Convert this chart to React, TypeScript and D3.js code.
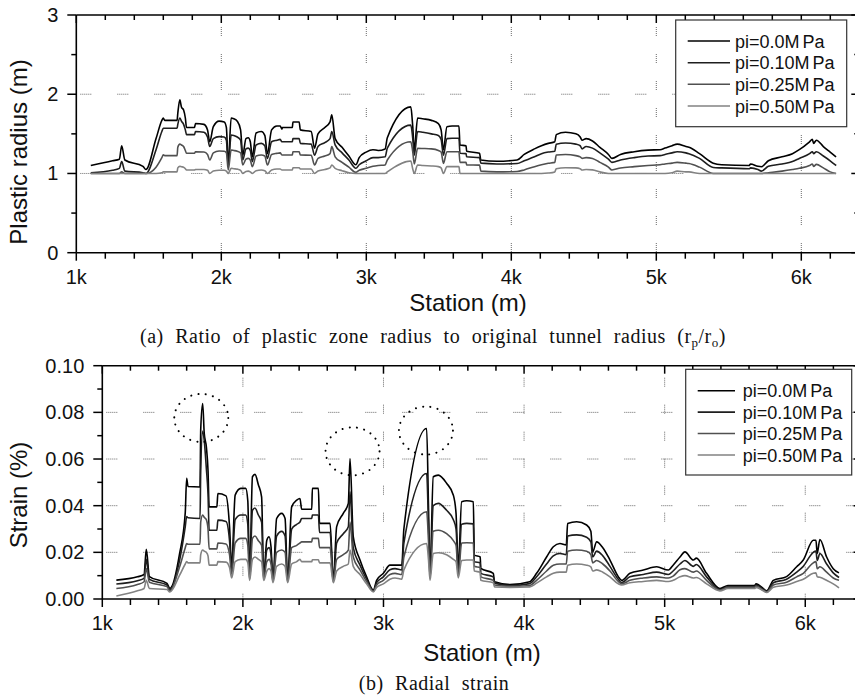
import React from "react";
import * as d3 from "d3";

// ---------------- data ----------------
const STATIONS = [
  1100, 1250, 1297, 1313, 1335, 1460, 1480, 1550, 1590, 1600,
  1610, 1695, 1700, 1714, 1725, 1740, 1752, 1760, 1815, 1822,
  1880, 1905, 1920, 1945, 1985, 2020, 2035, 2048, 2068, 2086,
  2110, 2133, 2148, 2170, 2186, 2200, 2214, 2240, 2276, 2300,
  2318, 2347, 2383, 2406, 2418, 2422, 2490, 2494, 2537, 2545,
  2620, 2643, 2667, 2714, 2750, 2762, 2785, 2833, 2880, 2928,
  2951, 2999, 3046, 3082, 3130, 3145, 3307, 3320, 3331, 3354,
  3390, 3449, 3497, 3516, 3532, 3556, 3592, 3639, 3646, 3688,
  3692, 3781, 3790, 3900, 4040, 4089, 4160, 4208, 4255, 4300,
  4310, 4374, 4445, 4475, 4488, 4516, 4560, 4611, 4670, 4694,
  4753, 4848, 4943, 5026, 5060, 5109, 5144, 5204, 5225, 5298,
  5393, 5450, 5640, 5650, 5701, 5725, 5773, 5867, 5939, 5986,
  6057, 6076, 6085, 6104, 6152, 6199, 6240,
];

const RADIUS_P0 = [
  1.10, 1.16, 1.18, 1.35, 1.17, 1.09, 1.05, 1.44, 1.67, 1.70,
  1.67, 1.67, 1.76, 1.93, 1.84, 1.80, 1.70, 1.58, 1.58, 1.63,
  1.62, 1.55, 1.40, 1.59, 1.66, 1.65, 1.58, 1.12, 1.70, 1.69,
  1.66, 1.55, 1.23, 1.44, 1.45, 1.40, 1.21, 1.51, 1.53, 1.48,
  1.25, 1.55, 1.60, 1.60, 1.56, 1.58, 1.58, 1.65, 1.65, 1.55,
  1.53, 1.32, 1.50, 1.58, 1.65, 1.74, 1.44, 1.33, 1.22, 1.11,
  1.20, 1.27, 1.30, 1.29, 1.31, 1.45, 1.84, 1.60, 1.30, 1.70,
  1.69, 1.67, 1.63, 1.55, 1.30, 1.59, 1.60, 1.60, 1.36, 1.35,
  1.28, 1.255, 1.17, 1.155, 1.17, 1.24, 1.31, 1.35, 1.38, 1.40,
  1.49, 1.52, 1.50, 1.46, 1.42, 1.44, 1.41, 1.33, 1.24, 1.19,
  1.24, 1.275, 1.295, 1.30, 1.32, 1.35, 1.37, 1.34, 1.33, 1.25,
  1.13, 1.11, 1.10, 1.12, 1.09, 1.085, 1.16, 1.21, 1.25, 1.30,
  1.40, 1.43, 1.38, 1.42, 1.34, 1.27, 1.21,
];
const RADIUS_P10 = [
  1.01, 1.04, 1.065, 1.15, 1.03, 1.01, 1.0, 1.30, 1.53, 1.57,
  1.57, 1.57, 1.62, 1.70, 1.66, 1.62, 1.55, 1.49, 1.49, 1.53,
  1.52, 1.46, 1.34, 1.44, 1.465, 1.46, 1.42, 1.09, 1.486, 1.48,
  1.46, 1.42, 1.17, 1.31, 1.32, 1.29, 1.15, 1.36, 1.38, 1.35,
  1.19, 1.40, 1.42, 1.43, 1.40, 1.40, 1.40, 1.44, 1.44, 1.38,
  1.37, 1.23, 1.34, 1.39, 1.44, 1.53, 1.36, 1.26, 1.17, 1.065,
  1.11, 1.16, 1.20, 1.20, 1.21, 1.32, 1.61, 1.45, 1.23, 1.53,
  1.52, 1.50, 1.48, 1.43, 1.23, 1.44, 1.445, 1.445, 1.255, 1.25,
  1.21, 1.20, 1.13, 1.12, 1.125, 1.16, 1.21, 1.25, 1.27, 1.28,
  1.37, 1.385, 1.37, 1.35, 1.31, 1.34, 1.32, 1.26, 1.18, 1.14,
  1.17, 1.20, 1.22, 1.225, 1.24, 1.26, 1.275, 1.26, 1.25, 1.19,
  1.075, 1.07, 1.06, 1.07, 1.05, 1.03, 1.09, 1.12, 1.15, 1.19,
  1.25, 1.275, 1.25, 1.275, 1.22, 1.16, 1.10,
];
const RADIUS_P25 = [
  1.0, 1.0, 1.0, 1.02, 1.0, 1.0, 1.0, 1.08, 1.20, 1.235,
  1.225, 1.225, 1.33, 1.37, 1.36, 1.34, 1.29, 1.255, 1.255, 1.275,
  1.27, 1.24, 1.17, 1.26, 1.283, 1.28, 1.26, 1.045, 1.296, 1.29,
  1.28, 1.26, 1.107, 1.18, 1.19, 1.17, 1.086, 1.22, 1.233, 1.22,
  1.107, 1.24, 1.254, 1.26, 1.233, 1.233, 1.233, 1.275, 1.275, 1.233,
  1.23, 1.107, 1.19, 1.22, 1.25, 1.34, 1.21, 1.14, 1.08, 1.014,
  1.04, 1.065, 1.09, 1.10, 1.107, 1.17, 1.40, 1.28, 1.12, 1.317,
  1.315, 1.31, 1.29, 1.27, 1.128, 1.275, 1.275, 1.275, 1.14, 1.14,
  1.107, 1.105, 1.03, 1.02, 1.025, 1.045, 1.086, 1.11, 1.128, 1.14,
  1.233, 1.24, 1.225, 1.21, 1.19, 1.20, 1.19, 1.14, 1.08, 1.044,
  1.07, 1.086, 1.10, 1.11, 1.12, 1.13, 1.14, 1.13, 1.125, 1.08,
  1.0, 1.0, 1.0, 1.0, 1.0, 1.0, 1.01, 1.03, 1.05, 1.065,
  1.10, 1.12, 1.09, 1.115, 1.07, 1.02, 1.0,
];
const RADIUS_P50 = [
  1.0, 1.0, 1.0, 1.0, 1.0, 1.0, 1.0, 1.0, 1.01, 1.02,
  1.02, 1.02, 1.07, 1.09, 1.085, 1.08, 1.06, 1.044, 1.044, 1.05,
  1.05, 1.04, 1.0, 1.03, 1.04, 1.04, 1.03, 1.0, 1.065, 1.06,
  1.055, 1.04, 1.0, 1.025, 1.03, 1.02, 1.0, 1.035, 1.044, 1.035,
  1.0, 1.045, 1.056, 1.056, 1.044, 1.044, 1.044, 1.073, 1.073, 1.056,
  1.056, 1.0, 1.03, 1.05, 1.07, 1.107, 1.065, 1.035, 1.01, 1.0,
  1.0, 1.0, 1.0, 1.0, 1.0, 1.02, 1.157, 1.06, 1.0, 1.107,
  1.10, 1.095, 1.086, 1.07, 1.0, 1.086, 1.086, 1.086, 1.0, 1.0,
  1.0, 1.0, 1.0, 1.0, 1.0, 1.0, 1.0, 1.0, 1.005, 1.02,
  1.06, 1.073, 1.07, 1.06, 1.044, 1.05, 1.045, 1.02, 1.0, 1.0,
  1.0, 1.0, 1.0, 1.0, 1.0, 1.01, 1.03, 1.02, 1.02, 1.0,
  1.0, 1.0, 1.0, 1.0, 1.0, 1.0, 1.0, 1.0, 1.0, 1.0,
  1.0, 1.0, 1.0, 1.0, 1.0, 1.0, 1.0,
];

const STRAIN_P0 = [
  0.0081, 0.0095, 0.0105, 0.0213, 0.0096, 0.0067, 0.0045, 0.0195, 0.037, 0.0517,
  0.0482, 0.048, 0.0724, 0.0838, 0.071, 0.0652, 0.055, 0.0395, 0.0395, 0.0452,
  0.0442, 0.031, 0.0138, 0.0445, 0.0474, 0.0474, 0.042, 0.0096, 0.0524, 0.0534,
  0.049, 0.0438, 0.0096, 0.0252, 0.0267, 0.0224, 0.008, 0.0345, 0.0367, 0.0345,
  0.008, 0.0395, 0.0424, 0.0431, 0.0385, 0.0385, 0.0385, 0.0474, 0.0474, 0.0324,
  0.0324, 0.008, 0.031, 0.0367, 0.041, 0.0602, 0.0267, 0.0167, 0.0095, 0.0038,
  0.008, 0.011, 0.0145, 0.0145, 0.0145, 0.030, 0.0731, 0.04, 0.011, 0.0524,
  0.0531, 0.0496, 0.0445, 0.0367, 0.0138, 0.0417, 0.0421, 0.0417, 0.0188, 0.018,
  0.0131, 0.011, 0.0074, 0.0062, 0.0074, 0.011, 0.018, 0.0224, 0.0238, 0.0232,
  0.0324, 0.0331, 0.0317, 0.029, 0.0202, 0.0245, 0.022, 0.0167, 0.0096, 0.008,
  0.011, 0.0124, 0.0138, 0.0124, 0.0145, 0.018, 0.0202, 0.0167, 0.0175, 0.011,
  0.0045, 0.0058, 0.0058, 0.0065, 0.0045, 0.0035, 0.008, 0.0096, 0.0138, 0.0167,
  0.0252, 0.0252, 0.0195, 0.0255, 0.018, 0.013, 0.0112,
];
const STRAIN_P10 = [
  0.0064, 0.0078, 0.0088, 0.017, 0.0084, 0.006, 0.004, 0.0167, 0.031, 0.0353,
  0.0348, 0.0345, 0.055, 0.072, 0.068, 0.056, 0.045, 0.0295, 0.0295, 0.0338,
  0.0332, 0.025, 0.0124, 0.034, 0.036, 0.036, 0.032, 0.0092, 0.038, 0.039,
  0.036, 0.033, 0.009, 0.021, 0.022, 0.019, 0.0078, 0.027, 0.029, 0.027,
  0.0078, 0.030, 0.032, 0.033, 0.0345, 0.0345, 0.0345, 0.036, 0.036, 0.0285,
  0.0285, 0.0078, 0.024, 0.028, 0.031, 0.046, 0.022, 0.0145, 0.0085, 0.0035,
  0.007, 0.0095, 0.0125, 0.013, 0.0125, 0.024, 0.0538, 0.032, 0.010, 0.040,
  0.041, 0.038, 0.034, 0.030, 0.0115, 0.032, 0.0324, 0.0322, 0.016, 0.0155,
  0.011, 0.0095, 0.0068, 0.0058, 0.0066, 0.0095, 0.015, 0.0185, 0.0195, 0.019,
  0.027, 0.0275, 0.0265, 0.0245, 0.018, 0.0205, 0.0185, 0.014, 0.0085, 0.007,
  0.0095, 0.0105, 0.0115, 0.0105, 0.012, 0.015, 0.0165, 0.014, 0.0148, 0.0095,
  0.004, 0.0053, 0.0053, 0.006, 0.0042, 0.0033, 0.007, 0.0085, 0.0115, 0.014,
  0.020, 0.0205, 0.0165, 0.0195, 0.015, 0.0112, 0.0092,
];
const STRAIN_P25 = [
  0.0045, 0.0062, 0.0074, 0.013, 0.0072, 0.0053, 0.0035, 0.0138, 0.022, 0.0238,
  0.0235, 0.0235, 0.033, 0.036, 0.035, 0.034, 0.030, 0.0215, 0.0215, 0.024,
  0.0236, 0.019, 0.0105, 0.024, 0.026, 0.026, 0.023, 0.0085, 0.026, 0.027,
  0.025, 0.023, 0.0085, 0.016, 0.017, 0.015, 0.0075, 0.020, 0.021, 0.020,
  0.0075, 0.022, 0.023, 0.024, 0.0245, 0.0245, 0.0245, 0.026, 0.026, 0.022,
  0.022, 0.0075, 0.017, 0.019, 0.021, 0.033, 0.018, 0.0125, 0.0075, 0.0033,
  0.006, 0.008, 0.0105, 0.011, 0.0105, 0.018, 0.0374, 0.025, 0.009, 0.029,
  0.0295, 0.028, 0.025, 0.023, 0.010, 0.024, 0.0241, 0.024, 0.014, 0.0135,
  0.0095, 0.008, 0.006, 0.0054, 0.0058, 0.008, 0.012, 0.0145, 0.015, 0.015,
  0.0205, 0.021, 0.0205, 0.019, 0.0155, 0.0165, 0.015, 0.012, 0.0075, 0.0065,
  0.008, 0.009, 0.0095, 0.009, 0.0098, 0.0125, 0.013, 0.0115, 0.012, 0.008,
  0.0038, 0.005, 0.005, 0.0055, 0.0038, 0.003, 0.006, 0.0072, 0.0095, 0.011,
  0.0155, 0.016, 0.013, 0.0138, 0.0115, 0.009, 0.008,
];
const STRAIN_P50 = [
  0.0013, 0.0035, 0.0045, 0.008, 0.0045, 0.0041, 0.003, 0.0102, 0.015, 0.016,
  0.0155, 0.0155, 0.019, 0.021, 0.0205, 0.020, 0.0185, 0.0145, 0.0145, 0.016,
  0.0158, 0.0135, 0.009, 0.016, 0.017, 0.017, 0.0155, 0.008, 0.017, 0.018,
  0.017, 0.016, 0.008, 0.012, 0.013, 0.012, 0.007, 0.014, 0.015, 0.014,
  0.007, 0.015, 0.016, 0.017, 0.016, 0.016, 0.016, 0.0168, 0.0168, 0.0155,
  0.0155, 0.007, 0.012, 0.014, 0.015, 0.021, 0.014, 0.0105, 0.0065, 0.003,
  0.005, 0.0065, 0.0085, 0.009, 0.0085, 0.0125, 0.0238, 0.017, 0.008, 0.0195,
  0.0198, 0.019, 0.017, 0.016, 0.009, 0.0165, 0.0167, 0.0167, 0.012, 0.0115,
  0.008, 0.007, 0.0052, 0.005, 0.0052, 0.0068, 0.0095, 0.011, 0.0115, 0.0115,
  0.0145, 0.015, 0.0145, 0.0138, 0.012, 0.0125, 0.0115, 0.0095, 0.0065, 0.006,
  0.007, 0.0075, 0.008, 0.0075, 0.008, 0.0095, 0.010, 0.009, 0.0092, 0.0065,
  0.0035, 0.0045, 0.0045, 0.005, 0.0035, 0.0028, 0.005, 0.006, 0.0075, 0.0085,
  0.011, 0.0112, 0.0095, 0.0093, 0.008, 0.0065, 0.0048,
];

const SERIES_LABELS = ["pi=0.0", "pi=0.10", "pi=0.25", "pi=0.50"];
const SERIES_UNIT = "MPa";
const X_DOMAIN = [1000, 6400];
const X_TICKS = [1000, 2000, 3000, 4000, 5000, 6000];
const X_TICK_LABELS = ["1k", "2k", "3k", "4k", "5k", "6k"];
const X_GRID = [2000, 3000, 4000, 5000, 6000];
const RADIUS_TICKS = [0, 1, 2, 3];
const RADIUS_GRID = [1, 2];
const STRAIN_TICKS = [0, 0.02, 0.04, 0.06, 0.08, 0.1];
const STRAIN_GRID = [0.02, 0.04, 0.06, 0.08];
const HIGHLIGHTS = [
  { station: 1704, strain: 0.0776 },
  { station: 2780, strain: 0.0633 },
  { station: 3302, strain: 0.0722 },
];

// ---------------- styling ----------------
const SANS = "'Liberation Sans', Arial, Helvetica, sans-serif";
const SERIF = "'Liberation Serif', 'Times New Roman', serif";
const COLORS = ["#000000", "#1e1e1e", "#505050", "#828282"];
const H_DASH = "1,1,1,1,1,1,1,1,1,1,1,26";
const V_DASH = "1,1,1,1,1,1,1,1,1,18";

type Box = { left: number; right: number; top: number; bottom: number };
type LegendPos = { x: number; y: number; w: number; h: number; rows: number[]; lx1: number; lx2: number; tx: number };

function Panel(props: {
  box: Box;
  yDomain: [number, number];
  yTicks: number[];
  yMinorStep: number;
  yFmt: (v: number) => string;
  yGrid: number[];
  series: number[][];
  legend: LegendPos;
  yTitle: string;
  yTitlePos: [number, number];
  xTitlePos: [number, number];
  highlights?: { station: number; strain: number }[];
}) {
  const { box, yDomain, yTicks, yMinorStep, yFmt, yGrid, series, legend, yTitle, yTitlePos, xTitlePos } = props;
  const x = d3.scaleLinear().domain(X_DOMAIN).range([box.left, box.right]);
  const y = d3.scaleLinear().domain(yDomain).range([box.bottom, box.top]);
  const xMinor = d3.range(X_DOMAIN[0], X_DOMAIN[1] + 1, 200);
  const yMinor = d3.range(yDomain[0], yDomain[1] + yMinorStep / 2, yMinorStep);
  const line = d3
    .line<number>()
    .x((_, i) => x(STATIONS[i]))
    .y((d) => y(d))
    .curve(d3.curveMonotoneX);
  const axisW = 1.6;
  return (
    <g>
      {/* grid */}
      {X_GRID.map((g) => (
        <line key={"vg" + g} x1={x(g)} x2={x(g)} y1={box.top + 12} y2={box.bottom}
          stroke="#6a6a6a" strokeWidth={1} strokeDasharray={V_DASH} />
      ))}
      {yGrid.map((g) => (
        <line key={"hg" + g} x1={box.left + 4} x2={box.right} y1={y(g)} y2={y(g)}
          stroke="#6a6a6a" strokeWidth={1} strokeDasharray={H_DASH} />
      ))}
      {/* series */}
      {series.map((s, i) => (
        <path key={"s" + i} d={line(s) || ""} fill="none" stroke={COLORS[i]} strokeWidth={1.6}
          strokeLinejoin="round" />
      ))}
      {/* highlight circles */}
      {(props.highlights || []).map((h, i) => (
        <ellipse key={"h" + i} cx={x(h.station)} cy={y(h.strain)} rx={27} ry={24} fill="none"
          stroke="#000" strokeWidth={2} strokeDasharray="0.1,7.2" strokeLinecap="round" />
      ))}
      {/* frame */}
      <line x1={box.left} x2={box.right} y1={box.bottom} y2={box.bottom} stroke="#000" strokeWidth={axisW} />
      <line x1={box.left} x2={box.right} y1={box.top} y2={box.top} stroke="#000" strokeWidth={axisW} />
      <line x1={box.left} x2={box.left} y1={box.top} y2={box.bottom} stroke="#000" strokeWidth={axisW} />
      <line x1={box.right} x2={box.right} y1={box.top} y2={box.bottom} stroke="#000" strokeWidth={axisW} />
      {/* x ticks */}
      {xMinor.map((t) => {
        const major = t % 1000 === 0;
        return (
          <g key={"xt" + t}>
            <line x1={x(t)} x2={x(t)} y1={box.bottom} y2={box.bottom + (major ? 8 : 6)} stroke="#000" strokeWidth={1.5} />
            <line x1={x(t)} x2={x(t)} y1={box.top} y2={box.top + (major ? 8 : 5)} stroke="#000" strokeWidth={1.5} />
          </g>
        );
      })}
      {X_TICKS.map((t, i) => (
        <text key={"xl" + t} x={x(t)} y={box.bottom + 31} textAnchor="middle" fontFamily={SANS} fontSize={20} fill="#111">
          {X_TICK_LABELS[i]}
        </text>
      ))}
      {/* y ticks */}
      {yMinor.map((t, i) => {
        const major = i % 2 === 0;
        return (
          <g key={"yt" + i}>
            <line x1={box.left - (major ? 9 : 5)} x2={box.left} y1={y(t)} y2={y(t)} stroke="#000" strokeWidth={1.5} />
            <line x1={box.right - (major ? 8 : 5)} x2={box.right} y1={y(t)} y2={y(t)} stroke="#000" strokeWidth={1.5} />
          </g>
        );
      })}
      {yTicks.map((t) => (
        <text key={"yl" + t} x={box.left - 18} y={y(t) + 7} textAnchor="end" fontFamily={SANS} fontSize={20} fill="#111">
          {yFmt(t)}
        </text>
      ))}
      {/* titles */}
      <text transform={`translate(${yTitlePos[0]},${yTitlePos[1]}) rotate(-90)`} textAnchor="middle"
        fontFamily={SANS} fontSize={24} fill="#111">
        {yTitle}
      </text>
      <text x={xTitlePos[0]} y={xTitlePos[1]} textAnchor="middle" fontFamily={SANS} fontSize={24} fill="#111">
        Station (m)
      </text>
      {/* legend */}
      <rect x={legend.x} y={legend.y} width={legend.w} height={legend.h} fill="#fff" stroke="#333" strokeWidth={1.2} />
      {SERIES_LABELS.map((lab, i) => (
        <g key={"lg" + i}>
          <line x1={legend.lx1} x2={legend.lx2} y1={legend.rows[i]} y2={legend.rows[i]} stroke={COLORS[i]} strokeWidth={1.6} />
          <text x={legend.tx} y={legend.rows[i] + 6.5} fontFamily={SANS} fontSize={18} fill="#111">
            {lab}
            <tspan>{SERIES_UNIT.slice(0, 1)}</tspan>
            <tspan dx={3}>{SERIES_UNIT.slice(1)}</tspan>
          </text>
        </g>
      ))}
    </g>
  );
}

export default function App() {
  const topBox: Box = { left: 76.3, right: 859.3, top: 15, bottom: 252.7 };
  const botBox: Box = { left: 102.3, right: 861.5, top: 365.7, bottom: 599 };
  return (
    <svg width={855} height={697} viewBox="0 0 855 697"
      style={{ position: "absolute", left: 0, top: 0, background: "#fff" }}>
      <rect x={0} y={0} width={855} height={697} fill="#fff" />
      <Panel
        box={topBox}
        yDomain={[0, 3]}
        yTicks={RADIUS_TICKS}
        yMinorStep={0.5}
        yFmt={(v) => d3.format("d")(v)}
        yGrid={RADIUS_GRID}
        series={[RADIUS_P0, RADIUS_P10, RADIUS_P25, RADIUS_P50]}
        legend={{ x: 675.7, y: 20, w: 171, h: 106.7, rows: [41, 62.7, 84.3, 106], lx1: 687.7, lx2: 730, tx: 735 }}
        yTitle="Plastic radius (m)"
        yTitlePos={[27, 152]}
        xTitlePos={[468, 311]}
      />
      <Panel
        box={botBox}
        yDomain={[0, 0.1]}
        yTicks={STRAIN_TICKS}
        yMinorStep={0.01}
        yFmt={(v) => d3.format(".2f")(v)}
        yGrid={STRAIN_GRID}
        series={[STRAIN_P0, STRAIN_P10, STRAIN_P25, STRAIN_P50]}
        legend={{ x: 685.7, y: 369.3, w: 166, h: 105.7, rows: [390.7, 412.1, 433.5, 455], lx1: 697.7, lx2: 735, tx: 742.7 }}
        yTitle="Strain (%)"
        yTitlePos={[27, 495]}
        xTitlePos={[482, 661]}
        highlights={HIGHLIGHTS}
      />
      <text x={433} y={343} textAnchor="middle" fontFamily={SERIF} fontSize={20} fill="#111"
        style={{ wordSpacing: "6px", letterSpacing: "0.5px" }}>
        (a) Ratio of plastic zone radius to original tunnel radius (r
        <tspan fontSize={13} dy={4}>p</tspan>
        <tspan dy={-4}>/r</tspan>
        <tspan fontSize={13} dy={4}>o</tspan>
        <tspan dy={-4}>)</tspan>
      </text>
      <text x={434} y={690} textAnchor="middle" fontFamily={SERIF} fontSize={20} fill="#111"
        style={{ wordSpacing: "6px", letterSpacing: "0.5px" }}>
        (b) Radial strain
      </text>
    </svg>
  );
}
